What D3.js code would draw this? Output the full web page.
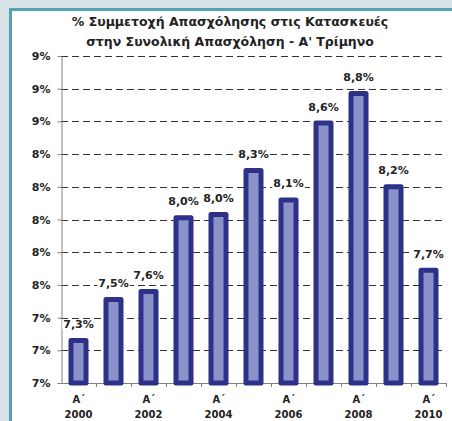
<!DOCTYPE html>
<html>
    <head>
        <style>
            body {
                margin: 0;
                background: #d6e2e6;
            }
            svg text {
                font-family: "DejaVu Sans", Verdana, sans-serif;
                font-weight: bold;
                fill: #222;
            }
            .axis path, .axis line {
                stroke: #808080;
            }
            .grid line {
                stroke: #333;
                stroke-dasharray: 7,4;
            }
        </style>
        <script src="https://d3js.org/d3.v7.min.js"></script>
    </head>
    <body>
        <svg width="452" height="421"></svg>
        <script>
            var years = ["2000", "2001", "2002", "2003", "2004", "2005", "2006", "2007", "2008", "2009", "2010"];
            var quarter = "Α΄";
            var values = [7.26, 7.51, 7.56, 8.01, 8.03, 8.30, 8.12, 8.59, 8.77, 8.20, 7.69];
            var yTicks = [7.0, 7.2, 7.4, 7.6, 7.8, 8.0, 8.2, 8.4, 8.6, 8.8, 9.0];
            var titleLines = ["% Συμμετοχή Απασχόλησης στις Κατασκευές", "στην Συνολική Απασχόληση - Α' Τρίμηνο"];

            var svg = d3.select("svg");

            // panel with teal frame
            svg.append("rect")
               .attr("x", 10.5).attr("y", 9.5)
               .attr("width", 460).attr("height", 430)
               .attr("fill", "#fff")
               .attr("stroke", "#55a2b1")
               .attr("stroke-width", 3);

            var pLeft = 61, pRight = 446, pTop = 56, pBottom = 383;

            var x = d3.scaleBand()
                      .domain(years)
                      .range([pLeft, pRight])
                      .paddingInner(0.571)
                      .paddingOuter(0.2855);

            var y = d3.scaleLinear()
                      .domain([7, 9])
                      .range([pBottom, pTop]);

            // grid
            svg.append("g")
               .attr("class", "grid")
               .selectAll("line")
               .data(yTicks.slice(1))
               .enter().append("line")
               .attr("x1", pLeft).attr("x2", pRight)
               .attr("y1", function(d){ return Math.round(y(d)) + 0.5; })
               .attr("y2", function(d){ return Math.round(y(d)) + 0.5; });

            // y axis
            var yAxis = svg.append("g")
               .attr("class", "axis")
               .attr("transform", "translate(" + (pLeft + 0.5) + ",0)")
               .call(d3.axisLeft(y)
                       .tickValues(yTicks)
                       .tickSize(4)
                       .tickSizeOuter(0)
                       .tickPadding(7)
                       .tickFormat(function(d){ return Math.round(d) + "%"; }));
            yAxis.selectAll("text").attr("font-size", 11).attr("fill", "#222");

            // x axis line + boundary ticks
            var xAxis = svg.append("g").attr("class", "axis");
            xAxis.append("line")
                 .attr("x1", pLeft).attr("x2", pRight)
                 .attr("y1", pBottom + 0.5).attr("y2", pBottom + 0.5);
            var step = x.step();
            xAxis.selectAll(".tk")
                 .data(years)
                 .enter().append("line")
                 .attr("class", "tk")
                 .attr("x1", function(d){ return Math.round(x(d) + x.bandwidth() / 2 + step / 2) + 0.5; })
                 .attr("x2", function(d){ return Math.round(x(d) + x.bandwidth() / 2 + step / 2) + 0.5; })
                 .attr("y1", pBottom).attr("y2", pBottom + 4);

            // bars
            svg.append("g")
               .selectAll("rect")
               .data(values)
               .enter().append("rect")
               .attr("x", function(d, i){ return x(years[i]); })
               .attr("width", x.bandwidth())
               .attr("y", function(d){ return y(d); })
               .attr("height", function(d){ return pBottom - y(d); })
               .attr("fill", "#8a92c9")
               .attr("stroke", "#2e3188")
               .attr("stroke-width", 5)
               .attr("stroke-linejoin", "round");

            // value labels with white background
            var fmt = d3.format(".1f");
            var lab = svg.append("g")
               .selectAll("g")
               .data(values)
               .enter().append("g");
            lab.append("text")
               .attr("x", function(d, i){ return x(years[i]) + x.bandwidth() / 2; })
               .attr("y", function(d){ return y(d) - 12.5; })
               .attr("text-anchor", "middle")
               .attr("font-size", 11)
               .text(function(d){ return fmt(d).replace(".", ",") + "%"; });
            lab.each(function(){
                var g = d3.select(this), b = g.select("text").node().getBBox();
                g.insert("rect", "text")
                 .attr("x", b.x - 1).attr("y", b.y + 1)
                 .attr("width", b.width + 2).attr("height", b.height - 2)
                 .attr("fill", "#fff");
            });

            // x labels (every other year)
            var xl = svg.append("g")
               .selectAll("g")
               .data(years.filter(function(d, i){ return i % 2 === 0; }))
               .enter().append("g")
               .attr("transform", function(d){ return "translate(" + (x(d) + x.bandwidth() / 2) + ",0)"; });
            xl.append("text")
              .attr("y", 403).attr("text-anchor", "middle").attr("font-size", 10)
              .text(quarter);
            xl.append("text")
              .attr("y", 418).attr("text-anchor", "middle").attr("font-size", 10)
              .text(function(d){ return d; });

            // title
            svg.append("g")
               .selectAll("text")
               .data(titleLines)
               .enter().append("text")
               .attr("x", 230)
               .attr("y", function(d, i){ return 26 + i * 20; })
               .attr("text-anchor", "middle")
               .attr("font-size", 12.5)
               .text(function(d){ return d; });
        </script>
    </body>
</html>
